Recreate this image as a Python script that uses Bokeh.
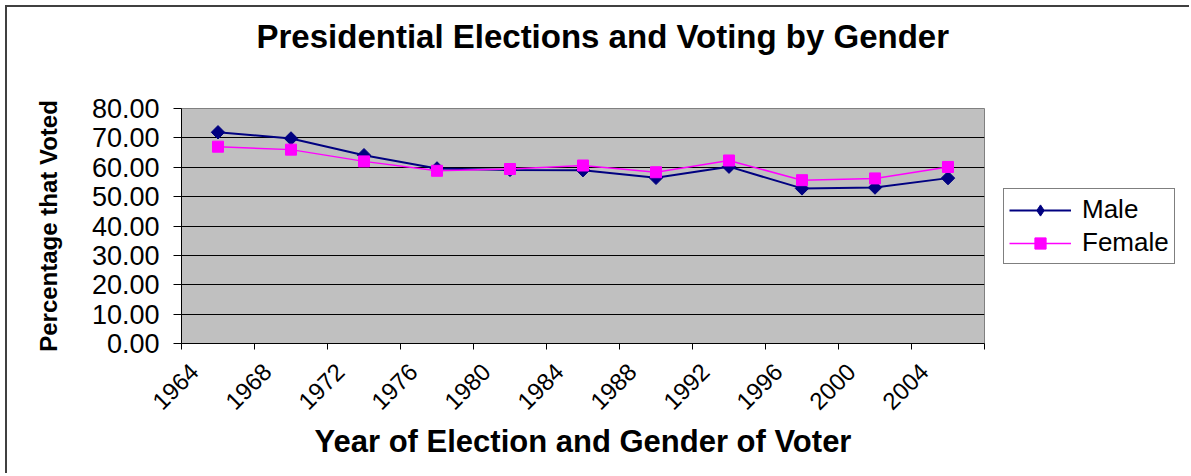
import math
from bokeh.plotting import figure
from bokeh.layouts import row
from bokeh.models import (Range1d, FixedTicker, CustomJSTickFormatter,
                          NumeralTickFormatter, Legend, LegendItem)
from bokeh.embed import file_html
from bokeh.resources import INLINE

# ---- data ----
years = [1964, 1968, 1972, 1976, 1980, 1984, 1988, 1992, 1996, 2000, 2004]
male = [71.9, 69.8, 64.1, 59.6, 59.1, 59.0, 56.4, 60.2, 52.8, 53.1, 56.3]
female = [67.0, 66.0, 62.0, 58.8, 59.4, 60.6, 58.3, 62.3, 55.6, 56.2, 60.1]
y_ticks = [0, 10, 20, 30, 40, 50, 60, 70, 80]

FONT = "Liberation Sans"
MALE_C = "#000080"
FEMALE_C = "#FF00FF"
slot = 4  # each election occupies a 4-year category slot
x_pos = [y + slot / 2 for y in years]  # point drawn at the centre of its slot

H = 466
p = figure(width=990, height=H, output_backend="svg", toolbar_location=None,
           x_range=Range1d(years[0], years[-1] + slot), y_range=Range1d(0, 80),
           min_border_left=174, min_border_right=13,
           min_border_top=100, min_border_bottom=130)

p.background_fill_color = "#C0C0C0"
p.border_fill_color = "white"
p.outline_line_color = "#808080"
p.outline_line_width = 1

# title (second, blank line lifts the title line up in its panel)
p.title.text = "Presidential Elections and Voting by Gender\n\u00a0"
p.title.text_font = FONT
p.title.text_font_size = "33px"
p.title.text_font_style = "bold"
p.title.text_color = "black"
p.title.text_line_height = 1.2
p.title.align = "left"
p.title.vertical_align = "bottom"
p.title.offset = 75
p.title.standoff = 18

# x axis
xa = p.xaxis[0]
xa.ticker = FixedTicker(ticks=[y + 0.7 for y in years],
                        minor_ticks=years + [years[-1] + slot])
xa.formatter = CustomJSTickFormatter(code="return Math.floor(tick).toFixed(0);")
xa.major_tick_line_color = None
xa.minor_tick_line_color = "black"
xa.minor_tick_out = 6
xa.minor_tick_in = 0
xa.axis_line_color = "black"
xa.major_label_orientation = math.pi / 4
xa.major_label_text_font = FONT
xa.major_label_text_font_size = "24px"
xa.major_label_text_color = "black"
xa.major_label_standoff = 18
xa.axis_label = "Year of Election and Gender of Voter"
xa.axis_label_text_font = FONT
xa.axis_label_text_font_size = "31px"
xa.axis_label_text_font_style = "bold"
xa.axis_label_text_color = "black"
xa.axis_label_standoff = 4
p.xgrid.visible = False

# y axis
ya = p.yaxis[0]
ya.ticker = FixedTicker(ticks=y_ticks)
ya.formatter = NumeralTickFormatter(format="0.00")
ya.major_tick_out = 8
ya.major_tick_in = 0
ya.minor_tick_line_color = None
ya.axis_line_color = "black"
ya.major_label_text_font = FONT
ya.major_label_text_font_size = "27px"
ya.major_label_text_color = "black"
ya.major_label_standoff = 14
ya.axis_label = "Percentage that Voted"
ya.axis_label_text_font = FONT
ya.axis_label_text_font_size = "24px"
ya.axis_label_text_font_style = "bold"
ya.axis_label_text_color = "black"
ya.axis_label_standoff = 27
p.ygrid.ticker = FixedTicker(ticks=y_ticks[1:-1])
p.ygrid.grid_line_color = "black"
p.ygrid.grid_line_width = 1


def add_series(fig, male_marker="square", male_angle=math.pi / 4, male_size=9.5):
    l1 = fig.line(x_pos, male, line_color=MALE_C, line_width=2)
    s1 = fig.scatter(x_pos, male, marker=male_marker, angle=male_angle, size=male_size,
                     fill_color=MALE_C, line_color=MALE_C)
    l2 = fig.line(x_pos, female, line_color=FEMALE_C, line_width=1.5)
    s2 = fig.scatter(x_pos, female, marker="square", size=11,
                     fill_color=FEMALE_C, line_color=FEMALE_C)
    return l1, s1, l2, s2


add_series(p)

# legend panel to the right of the chart (its own small canvas)
q = figure(width=1182 - 990, height=H, output_backend="svg", toolbar_location=None,
           x_axis_type=None, y_axis_type=None,
           x_range=Range1d(0, 1), y_range=Range1d(0, 1),
           min_border_left=0, min_border_right=0, min_border_top=0, min_border_bottom=0)
q.outline_line_color = None
q.background_fill_color = "white"
q.border_fill_color = "white"
q.grid.visible = False
# these lie outside q's view; they only feed the legend swatches
ql1, qs1, ql2, qs2 = add_series(q, male_marker="diamond", male_angle=0, male_size=15)

# q's frame is aligned with p's frame; offsets are from its bottom-left corner
legend = Legend(items=[LegendItem(label="Male", renderers=[ql1, qs1]),
                       LegendItem(label="Female", renderers=[ql2, qs2])],
                location=(6, 79))
legend.border_line_color = "black"
legend.border_line_width = 1
legend.background_fill_color = "white"
legend.background_fill_alpha = 1
legend.label_text_font = FONT
legend.label_text_font_size = "26px"
legend.label_text_color = "black"
legend.glyph_width = 62
legend.glyph_height = 28
legend.label_height = 28
legend.padding = 5
legend.spacing = 2
legend.label_standoff = 11
legend.margin = 0
q.add_layout(legend)

layout = row(p, q, spacing=0)
layout.styles = {"border-top": "2px solid #404040", "border-left": "2px solid #404040",
                 "margin-top": "5px", "margin-left": "5px"}

with open("out.html", "w") as f:
    f.write(file_html(layout, INLINE))
